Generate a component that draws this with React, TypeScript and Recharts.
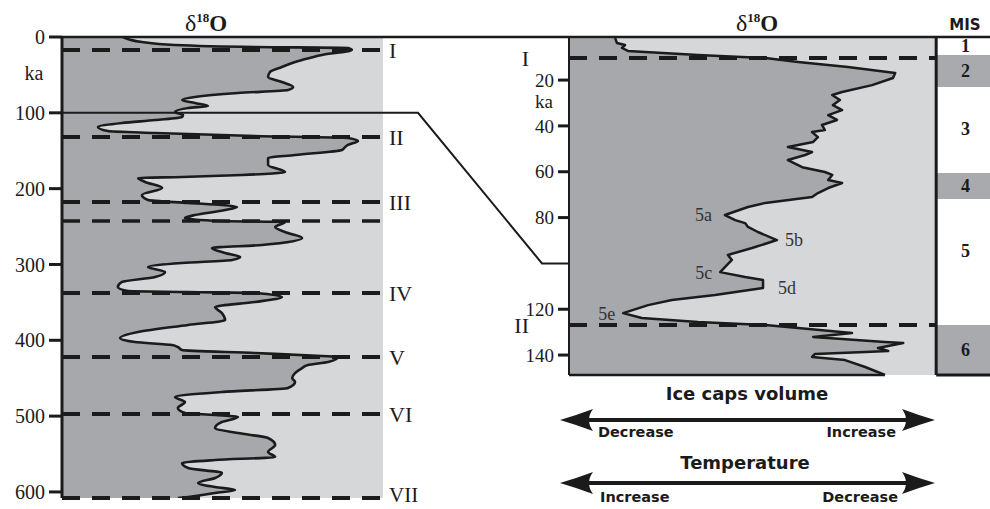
import React from 'react';
import {
  ComposedChart, Area, XAxis, YAxis, ReferenceLine, ReferenceArea, ReferenceDot, CartesianGrid,
} from 'recharts';

// ---------- data ----------
// Left panel: 0–608 ka stacked δ18O record (relative δ18O position, 0–100 across the panel)
const leftAge = [
  0, 6.6, 10.6, 13.2, 14.5, 17.1, 23.7, 30.3, 34.3, 39.6,
  46.2, 52.8, 59.4, 65.9, 69.9, 73.9, 79.1, 83.1, 87.0, 91.0,
  93.6, 98.9, 102.9, 105.5, 109.5, 113.4, 118.7, 124.0, 126.6, 130.6,
  133.2, 137.2, 142.4, 146.4, 149.0, 155.6, 159.6, 168.8, 178.1, 182.0,
  184.6, 186.0, 191.2, 199.2, 208.4, 215.0, 218.9, 221.6, 224.2, 228.2,
  234.8, 238.7, 242.7, 244.0, 250.6, 258.5, 265.1, 274.3, 278.3, 284.9,
  290.2, 294.1, 298.1, 303.3, 309.9, 316.5, 323.1, 329.7, 335.0, 336.3,
  337.6, 342.9, 349.5, 356.1, 364.0, 373.3, 379.8, 389.1, 397.0, 402.3,
  406.2, 408.9, 412.8, 416.8, 420.7, 422.0, 428.6, 432.6, 436.6, 443.2,
  449.7, 455.0, 462.9, 468.2, 474.8, 481.4, 489.3, 495.9, 498.5, 501.2,
  507.8, 515.7, 522.3, 528.9, 538.1, 547.4, 553.9, 557.9, 561.9, 568.5,
  575.0, 581.6, 588.2, 593.5, 597.5, 601.4, 606.7, 608.0,
];
const leftD18O = [
  19.0, 24.9, 35.2, 60.1, 89.1, 90.3, 81.0, 74.8, 71.7, 68.5,
  64.8, 64.2, 68.5, 72.0, 70.4, 54.8, 41.4, 37.4, 41.4, 45.5,
  39.3, 35.2, 37.7, 37.4, 29.0, 18.7, 11.2, 14.3, 29.0, 60.1,
  89.1, 92.2, 89.1, 87.9, 87.2, 72.6, 64.2, 64.2, 69.5, 56.1,
  37.4, 23.7, 25.9, 31.2, 24.9, 26.8, 39.3, 49.8, 54.5, 50.8,
  41.4, 38.3, 49.8, 69.5, 66.4, 70.4, 74.8, 62.3, 46.7, 50.8,
  55.5, 53.0, 37.4, 26.8, 32.1, 29.0, 18.7, 17.4, 20.6, 39.3,
  60.1, 68.5, 60.1, 47.7, 49.8, 50.8, 39.3, 23.7, 18.1, 22.7,
  34.3, 36.1, 37.4, 60.1, 81.0, 86.0, 82.9, 76.6, 74.8, 72.6,
  71.7, 72.6, 70.4, 49.8, 35.2, 38.3, 36.1, 38.3, 47.7, 54.8,
  49.8, 47.7, 54.8, 64.2, 66.4, 64.2, 66.4, 47.7, 37.4, 39.3,
  49.8, 47.7, 42.4, 47.7, 53.9, 47.7, 39.3, 36.1,
];
const leftTicks = [0, 100, 200, 300, 400, 500, 600];
const leftTermAge = [17.1, 131.9, 217.6, 242.7, 337.6, 422.0, 497.2, 608];
const leftTermLabel = ['I', 'II', 'III', '', 'IV', 'V', 'VI', 'VII'];

// Right panel: last ~150 ka
const rightAge = [
  1.7, 3.8, 4.7, 6.0, 7.3, 9.1, 10.4, 12.1, 14.3, 16.9,
  19.1, 22.2, 25.2, 26.5, 28.7, 30.9, 33.1, 35.3, 37.4, 39.6,
  41.8, 42.7, 44.9, 47.0, 49.2, 51.4, 52.7, 54.9, 58.0, 60.1,
  61.4, 63.6, 64.9, 67.1, 69.3, 71.0, 73.6, 75.4, 78.9, 81.1,
  82.4, 84.1, 86.3, 89.8, 93.3, 96.3, 98.5, 101.6, 103.8, 105.9,
  107.2, 110.7, 113.8, 116.0, 118.2, 121.7, 123.8, 125.6, 126.9, 128.2,
  130.4, 132.1, 134.3, 134.7, 136.9, 138.2, 138.7, 139.5, 140.8, 142.2,
  145.2, 148.7,
];
const rightD18O = [
  12.6, 13.1, 15.3, 14.5, 16.1, 35.2, 53.6, 62.6, 76.2, 89.1,
  88.5, 82.8, 74.6, 71.9, 74.0, 72.1, 74.6, 70.8, 73.2, 69.1,
  69.9, 66.4, 68.0, 66.7, 59.8, 66.4, 64.5, 59.8, 63.7, 69.9,
  71.9, 70.8, 74.6, 70.8, 68.0, 66.4, 53.6, 48.9, 42.6, 45.4,
  48.1, 48.9, 51.6, 56.8, 50.0, 43.4, 44.5, 42.6, 41.3, 48.1,
  53.0, 53.0, 39.9, 28.1, 21.6, 14.8, 19.9, 35.2, 53.6, 62.6,
  77.3, 66.7, 86.3, 91.3, 84.4, 87.2, 80.9, 67.2, 66.4, 75.4,
  80.9, 86.3,
];
const rightTicks = [20, 40, 60, 80, 120, 140];
const rightTermAge = [10.4, 126.9];
const rightTermLabel = ['I', 'II'];

const substageLabel = ['5a', '5b', '5c', '5d', '5e'];
const substageAge = [78.9, 89.8, 103.8, 110.7, 121.7];
const substageD18O = [42.6, 56.8, 41.3, 53.0, 14.8];

const misLabel = ['1', '2', '3', '4', '5', '6'];
const misTop = [1.2, 9.1, 23.0, 60.6, 71.9, 126.9];
const misBottom = [9.1, 23.0, 60.6, 71.9, 126.9, 148.7];
const misLabelAge = [5.0, 16.0, 41.0, 66.2, 94.2, 137.5];

const zoomAge = 100; // age joined between the two panels

// ---------- layout / style ----------
const W = 990;
const H = 509;
const INK = '#1b1b1b';
const DARK = '#a7a8ab';
const LIGHT = '#d6d7d9';
const MISGRAY = '#a9aaad';
const SERIF = '"Liberation Serif", "Times New Roman", serif';
const SANS = '"DejaVu Sans", Verdana, sans-serif';

const L = { left: 0, width: 440, plotL: 62, plotR: 383, top: 37, bottom: 498, domain: [0, 608] as [number, number] };
const R = { left: 480, width: 510, plotL: 569, plotR: 990, top: 37, bottom: 375, domain: [1.2, 148.7] as [number, number], xDomain: [0, 115] as [number, number] };
const MIS_X1 = 100.5;
const MIS_X2 = 115;
const MIS_LABEL_X = 108.3;
const BORDER_X = 100.3;

const leftData = leftAge.map((age, i) => ({ age, v: leftD18O[i] }));
const rightData = rightAge.map((age, i) => ({ age, v: rightD18O[i] }));

const yLeft = (a: number) => L.top + ((a - L.domain[0]) / (L.domain[1] - L.domain[0])) * (L.bottom - L.top);
const yRight = (a: number) => R.top + ((a - R.domain[0]) / (R.domain[1] - R.domain[0])) * (R.bottom - R.top);

const dash = { stroke: INK, strokeWidth: 4, strokeDasharray: '18 12' };
const romanStyle = { fill: INK, fontSize: 22, fontFamily: SERIF };

function Title({ x }: { x: number }) {
  return (
    <text x={x} y={31} textAnchor="middle" fill={INK} fontFamily={SERIF}>
      <tspan fontSize={24}>δ</tspan>
      <tspan fontSize={13} fontWeight="bold" dy={-9}>18</tspan>
      <tspan fontSize={23} fontWeight="bold" dy={9}>O</tspan>
    </text>
  );
}

function Arrow({ y, x1, x2 }: { y: number; x1: number; x2: number }) {
  return (
    <g fill={INK}>
      <line x1={x1 + 20} y1={y} x2={x2 - 20} y2={y} stroke={INK} strokeWidth={4} />
      <path d={`M${x1},${y} Q${x1 + 17},${y - 5} ${x1 + 33},${y - 11} Q${x1 + 25},${y} ${x1 + 33},${y + 11} Q${x1 + 17},${y + 5} ${x1},${y} Z`} />
      <path d={`M${x2},${y} Q${x2 - 17},${y - 5} ${x2 - 33},${y - 11} Q${x2 - 25},${y} ${x2 - 33},${y + 11} Q${x2 - 17},${y + 5} ${x2},${y} Z`} />
    </g>
  );
}

export default function App() {
  const yl = yLeft(zoomAge);
  const yr = yRight(zoomAge);
  const lastTerm = leftTermAge.length - 1;
  return (
    <div style={{ position: 'absolute', left: 0, top: 0, width: W, height: H, background: '#fff', overflow: 'hidden' }}>
      {/* Left panel: 0–600 ka */}
      <div style={{ position: 'absolute', left: L.left, top: 0 }}>
        <ComposedChart
          layout="vertical"
          width={L.width}
          height={H}
          data={leftData}
          margin={{ top: L.top, right: L.width - L.plotR, bottom: H - L.bottom, left: 0 }}
        >
          <CartesianGrid fill={LIGHT} fillOpacity={1} horizontal={false} vertical={false} />
          <XAxis type="number" hide domain={[0, 100]} allowDataOverflow />
          <YAxis
            type="number"
            dataKey="age"
            domain={L.domain}
            allowDataOverflow
            ticks={leftTicks}
            interval={0}
            width={L.plotL - L.left}
            tickSize={13}
            tickMargin={4}
            axisLine={{ stroke: INK, strokeWidth: 3 }}
            tickLine={{ stroke: INK, strokeWidth: 3 }}
            tick={{ fill: INK, fontSize: 20, fontFamily: SERIF }}
          />
          <Area
            type="monotone"
            dataKey="v"
            fill={DARK}
            fillOpacity={1}
            stroke={INK}
            strokeWidth={2.6}
            strokeLinejoin="round"
            dot={false}
            activeDot={false}
            isAnimationActive={false}
          />
          {leftTermAge.map((a, i) => (
            <ReferenceLine
              key={`lt${i}`}
              y={a}
              {...dash}
              strokeWidth={i === 3 ? 3.5 : 4}
              label={
                leftTermLabel[i]
                  ? {
                      value: leftTermLabel[i],
                      position: 'right',
                      offset: 6,
                      ...romanStyle,
                      fontSize: i === lastTerm ? 21 : 22,
                      dy: i === lastTerm ? -3 : 0,
                    }
                  : undefined
              }
            />
          ))}
        </ComposedChart>
      </div>

      {/* Right panel: last 150 ka + MIS column */}
      <div style={{ position: 'absolute', left: R.left, top: 0 }}>
        <ComposedChart
          layout="vertical"
          width={R.width}
          height={H}
          data={rightData}
          margin={{ top: R.top, right: 0, bottom: H - R.bottom, left: 0 }}
        >
          <CartesianGrid fill={LIGHT} fillOpacity={1} horizontal={false} vertical={false} />
          <XAxis type="number" hide domain={R.xDomain} allowDataOverflow />
          <YAxis
            type="number"
            dataKey="age"
            domain={R.domain}
            allowDataOverflow
            ticks={rightTicks}
            interval={0}
            width={R.plotL - R.left}
            tickSize={11}
            tickMargin={4}
            axisLine={{ stroke: INK, strokeWidth: 2 }}
            tickLine={{ stroke: INK, strokeWidth: 3 }}
            tick={{ fill: INK, fontSize: 19, fontFamily: SERIF }}
          />
          {misLabel.map((m, i) => (
            <ReferenceArea
              key={`mis${i}`}
              x1={MIS_X1}
              x2={MIS_X2}
              y1={misTop[i]}
              y2={misBottom[i]}
              fill={i % 2 === 1 ? MISGRAY : '#ffffff'}
              fillOpacity={1}
              stroke="none"
            />
          ))}
          <Area
            type="linear"
            dataKey="v"
            fill={DARK}
            fillOpacity={1}
            stroke={INK}
            strokeWidth={2.5}
            strokeLinejoin="round"
            dot={false}
            activeDot={false}
            isAnimationActive={false}
          />
          <ReferenceLine
            segment={[{ x: 0, y: R.domain[1] }, { x: rightD18O[rightD18O.length - 1], y: R.domain[1] }]}
            stroke={INK}
            strokeWidth={2.5}
          />
          <ReferenceLine x={BORDER_X} stroke={INK} strokeWidth={3} />
          <ReferenceLine
            segment={[{ x: BORDER_X, y: R.domain[1] }, { x: MIS_X2, y: R.domain[1] }]}
            stroke={INK}
            strokeWidth={3}
          />
          {rightTermAge.map((a, i) => (
            <ReferenceLine
              key={`rt${i}`}
              segment={[{ x: 0, y: a }, { x: BORDER_X, y: a }]}
              {...dash}
              label={{ value: rightTermLabel[i], position: 'left', offset: 40, ...romanStyle }}
            />
          ))}
          {substageLabel.map((s, i) => (
            <ReferenceDot
              key={`ss${i}`}
              x={substageD18O[i]}
              y={substageAge[i]}
              r={0}
              fill="none"
              stroke="none"
              label={{
                value: s,
                position: i % 2 === 0 ? 'left' : 'right',
                offset: i === 0 ? 13 : i === 3 ? 15 : 8,
                fill: '#333',
                fontSize: 18,
                fontFamily: SERIF,
              }}
            />
          ))}
          {misLabel.map((m, i) => (
            <ReferenceDot
              key={`ml${i}`}
              x={MIS_LABEL_X}
              y={misLabelAge[i]}
              r={0}
              fill="none"
              stroke="none"
              label={{ value: m, position: 'center', fill: INK, fontSize: 18, fontWeight: 'bold', fontFamily: SERIF }}
            />
          ))}
        </ComposedChart>
      </div>

      {/* annotations */}
      <svg width={W} height={H} style={{ position: 'absolute', left: 0, top: 0, pointerEvents: 'none' }}>
        <line x1={L.plotL} y1={L.top} x2={W} y2={L.top} stroke={INK} strokeWidth={2.5} />
        <polyline
          points={`${L.plotL},${yl} 418,${yl} 542,${yr} ${R.plotL},${yr}`}
          fill="none"
          stroke={INK}
          strokeWidth={2}
        />
        <Title x={206} />
        <Title x={757} />
        <text x={34} y={80} textAnchor="middle" fill={INK} fontSize={20} fontFamily={SERIF}>ka</text>
        <text x={544} y={108} textAnchor="middle" fill={INK} fontSize={19} fontFamily={SERIF}>ka</text>
        <text x={965} y={30} textAnchor="middle" fill={INK} fontSize={15} fontWeight="bold" fontFamily={SANS}>MIS</text>

        <text x={747} y={400} textAnchor="middle" fill={INK} fontSize={18} fontWeight="bold" fontFamily={SANS}>Ice caps volume</text>
        <Arrow y={420} x1={560} x2={935} />
        <text x={598} y={437} textAnchor="start" fill={INK} fontSize={14.5} fontWeight="bold" fontFamily={SANS}>Decrease</text>
        <text x={896} y={437} textAnchor="end" fill={INK} fontSize={14.5} fontWeight="bold" fontFamily={SANS}>Increase</text>
        <text x={745} y={469} textAnchor="middle" fill={INK} fontSize={18} fontWeight="bold" fontFamily={SANS}>Temperature</text>
        <Arrow y={483} x1={560} x2={935} />
        <text x={600} y={502} textAnchor="start" fill={INK} fontSize={14.5} fontWeight="bold" fontFamily={SANS}>Increase</text>
        <text x={898} y={502} textAnchor="end" fill={INK} fontSize={14.5} fontWeight="bold" fontFamily={SANS}>Decrease</text>
      </svg>
    </div>
  );
}
